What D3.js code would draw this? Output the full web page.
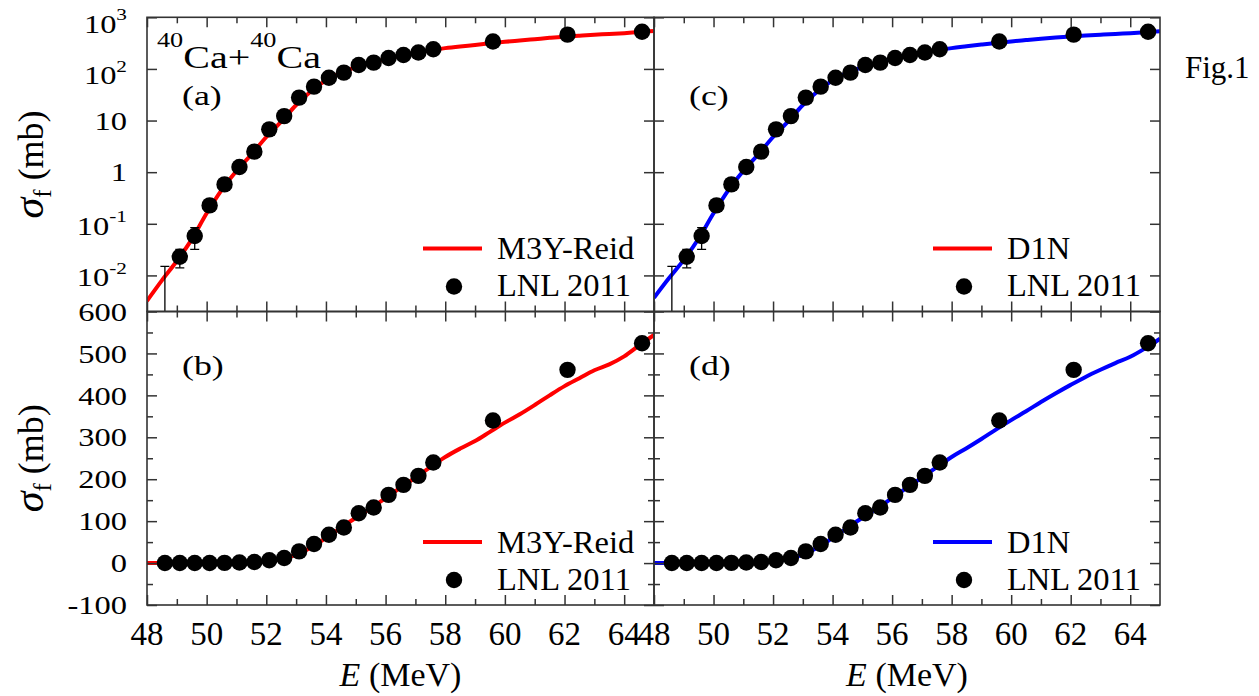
<!DOCTYPE html>
<html>
<head>
<meta charset="utf-8">
<script src="https://cdn.jsdelivr.net/npm/d3@7"></script>
<style>
  body { margin: 0; background: #fff; }
  svg, svg text { font-family: "Liberation Serif", "DejaVu Serif", serif; }
</style>
</head>
<body>
<script>
// measured fission cross sections (LNL 2011)
const expE = [48.6, 49.1, 49.6, 50.1, 50.6, 51.1, 51.6, 52.1, 52.6, 53.1, 53.6, 54.1, 54.6, 55.1, 55.6, 56.1, 56.6, 57.1, 57.6, 59.6, 62.1, 64.6];
const expSigma = [0.001, 0.023, 0.058, 0.227, 0.58, 1.26, 2.5, 6.75, 12.2, 27.8, 45.4, 67.5, 84.7, 119, 132.4, 162.6, 186.5, 208, 239.7, 340, 460.8, 524.4];
const expErr = [0.014, 0.009, 0.026, 0.03, 0.06, 0.12, 0.25, 0.6, 1.1, 2.2, 3.5, 4.5, 5, 6, 6, 7, 7, 7, 8, 8, 8, 8];

// model curves
const thE = [48, 48.5, 49, 49.5, 50, 50.5, 51, 51.5, 52, 52.5, 53, 53.5, 54, 54.5, 55, 55.5, 56, 56.5, 57, 57.5, 58, 58.5, 59, 59.5, 60, 60.5, 61, 61.5, 62, 62.5, 63, 63.5, 64, 64.5, 65];
const m3yReid = [0.0032, 0.008, 0.019, 0.05, 0.16, 0.45, 1.05, 2.2, 4.8, 9.5, 20, 37, 60, 84, 108, 131, 155, 180, 204, 229, 253, 273, 291, 313, 335, 355, 377, 400, 422, 441, 460, 474, 493, 519, 544];
const d1n = [0.0037, 0.0088, 0.02, 0.052, 0.16, 0.45, 1.05, 2.2, 4.8, 9.5, 20, 37, 60, 84, 108, 131, 155, 180, 204, 229, 253, 274, 296, 319, 341, 362, 384, 405, 425, 444, 461, 477, 492, 512, 535];

// ticks
const xMajor = [48, 50, 52, 54, 56, 58, 60, 62, 64];
const xMinor = [49, 51, 53, 55, 57, 59, 61, 63];
const logTicks = [1000, 100, 10, 1, 0.1, 0.01];
const linMajor = [-100, 0, 100, 200, 300, 400, 500, 600];
const linMinor = [-50, 50, 150, 250, 350, 450, 550];

const W = 1259, H = 696;
const colX = [[147, 654], [654, 1160]];
const rowY = [[17.3, 311.5], [311.5, 605]];
const ink = "#333";
const serif = "Liberation Serif, DejaVu Serif, serif";

const svg = d3.select("body").append("svg")
  .attr("width", W).attr("height", H)
  .attr("font-family", serif);
const defs = svg.append("defs");

const panels = [
  {name: "(a)", col: 0, row: 0, curve: m3yReid, color: "#ff0000", legName: "M3Y-Reid", legColor: "#ff0000"},
  {name: "(b)", col: 0, row: 1, curve: m3yReid, color: "#ff0000", legName: "M3Y-Reid", legColor: "#ff0000"},
  {name: "(c)", col: 1, row: 0, curve: d1n, color: "#0000ff", legName: "D1N", legColor: "#ff0000"},
  {name: "(d)", col: 1, row: 1, curve: d1n, color: "#0000ff", legName: "D1N", legColor: "#0000ff"}
];

function tickAxis(g, axisFn, scale, values, size, tr) {
  g.append("g")
    .attr("transform", tr)
    .attr("color", ink)
    .call(axisFn(scale).tickValues(values).tickSize(size).tickFormat(""))
    .call(s => s.select(".domain").remove())
    .call(s => s.selectAll("line").attr("stroke-width", 1.5));
}

panels.forEach((p, i) => {
  const [x0, x1] = colX[p.col];
  const [y0, y1] = rowY[p.row];
  const isLog = p.row === 0;
  const x = d3.scaleLinear().domain([48, 65]).range([x0, x1]);
  const y = isLog
    ? d3.scaleLog().domain([0.002, 1000]).range([y1, y0])
    : d3.scaleLinear().domain([-100, 600]).range([y1, y0]);

  defs.append("clipPath").attr("id", "clip" + i)
    .append("rect").attr("x", x0).attr("y", y0).attr("width", x1 - x0).attr("height", y1 - y0);

  const g = svg.append("g").attr("font-family", serif);
  const plot = g.append("g").attr("clip-path", `url(#clip${i})`);

  // model line
  const line = d3.line()
    .x((d, k) => x(thE[k]))
    .y(d => y(d))
    .curve(d3.curveMonotoneX);
  plot.append("path").datum(p.curve)
    .attr("d", line)
    .attr("fill", "none")
    .attr("stroke", p.color)
    .attr("stroke-width", 4);

  // error bars
  const eb = plot.append("g").attr("stroke", "#000").attr("stroke-width", 1.3);
  expE.forEach((e, k) => {
    const lo = Math.max(expSigma[k] - expErr[k], isLog ? 1e-5 : -1000);
    const hi = expSigma[k] + expErr[k];
    const cx = x(e);
    eb.append("line").attr("x1", cx).attr("x2", cx).attr("y1", y(lo)).attr("y2", y(hi));
    eb.append("line").attr("x1", cx - 4.5).attr("x2", cx + 4.5).attr("y1", y(hi)).attr("y2", y(hi));
    eb.append("line").attr("x1", cx - 4.5).attr("x2", cx + 4.5).attr("y1", y(lo)).attr("y2", y(lo));
  });

  // data points
  plot.append("g").selectAll("circle")
    .data(expE)
    .join("circle")
    .attr("cx", d => x(d))
    .attr("cy", (d, k) => y(expSigma[k]))
    .attr("r", 8.2)
    .attr("fill", "#000");

  // ticks, all inward
  tickAxis(g, d3.axisBottom, x, xMajor, -10, `translate(0,${y1})`);
  tickAxis(g, d3.axisBottom, x, xMinor, -6, `translate(0,${y1})`);
  tickAxis(g, d3.axisTop, x, xMajor, -10, `translate(0,${y0})`);
  tickAxis(g, d3.axisTop, x, xMinor, -6, `translate(0,${y0})`);
  if (isLog) {
    tickAxis(g, d3.axisLeft, y, logTicks, -10, `translate(${x0},0)`);
    tickAxis(g, d3.axisRight, y, logTicks, -10, `translate(${x1},0)`);
  } else {
    tickAxis(g, d3.axisLeft, y, linMajor, -10, `translate(${x0},0)`);
    tickAxis(g, d3.axisLeft, y, linMinor, -6, `translate(${x0},0)`);
    tickAxis(g, d3.axisRight, y, linMajor, -10, `translate(${x1},0)`);
    tickAxis(g, d3.axisRight, y, linMinor, -6, `translate(${x1},0)`);
  }

  g.append("rect")
    .attr("x", x0).attr("y", y0).attr("width", x1 - x0).attr("height", y1 - y0)
    .attr("fill", "none").attr("stroke", ink).attr("stroke-width", 1.6);

  // panel label
  g.append("text")
    .attr("transform", `translate(${x0 + 35},${y0 + (isLog ? 88 : 63.5)}) scale(1.28,1)`)
    .attr("font-size", 28)
    .text(p.name);

  // legend
  const lx = x1 + (p.col === 0 ? -231 : -227);
  const leg = g.append("g").attr("font-size", 32.5);
  leg.append("line")
    .attr("x1", lx).attr("x2", lx + 59)
    .attr("y1", y1 - 63).attr("y2", y1 - 63)
    .attr("stroke", p.legColor).attr("stroke-width", 4);
  leg.append("text").attr("x", lx + 74).attr("y", y1 - 52.5).text(p.legName);
  leg.append("circle").attr("cx", lx + 31).attr("cy", y1 - 25).attr("r", 8.2).attr("fill", "#000");
  leg.append("text").attr("x", lx + 74).attr("y", y1 - 15.5).text("LNL 2011");

  // tick labels: x on bottom row, y on left column
  if (!isLog) {
    g.append("g").attr("font-size", 33).attr("text-anchor", "middle")
      .selectAll("text").data(xMajor).join("text")
      .attr("x", d => x(d)).attr("y", 645)
      .text(d => d);
    g.append("text")
      .attr("x", (x0 + x1) / 2).attr("y", 686)
      .attr("text-anchor", "middle").attr("font-size", 34)
      .call(t => t.append("tspan").attr("font-style", "italic").text("E"))
      .call(t => t.append("tspan").text(" (MeV)"));
  }
  if (p.col === 0) {
    const yl = g.append("g").attr("font-size", 26).attr("text-anchor", "end");
    if (isLog) {
      logTicks.forEach(v => {
        const ex = Math.round(Math.log10(v));
        const t = yl.append("text");
        if (ex >= 2 || ex <= -1) {
          t.attr("transform", `translate(127,${y(v) + (ex > 0 ? 15.5 : 11)}) scale(1.25,1)`);
          t.append("tspan").text("10");
          t.append("tspan").attr("font-size", 17).attr("dy", -12.5).text(ex);
        } else {
          t.attr("transform", `translate(127,${y(v) + 9.2}) scale(1.25,1)`).text(v);
        }
      });
    } else {
      linMajor.forEach(v => {
        yl.append("text")
          .attr("transform", `translate(127,${y(v) + 9.2}) scale(1.25,1)`)
          .text(v);
      });
    }
    g.append("text")
      .attr("transform", `translate(43,${(y0 + y1) / 2}) rotate(-90)`)
      .attr("text-anchor", "middle").attr("font-size", 36)
      .call(t => t.append("tspan").attr("font-style", "italic").attr("font-size", 42).text("σ"))
      .call(t => t.append("tspan").attr("font-size", 25).attr("dy", 8).text("f"))
      .call(t => t.append("tspan").attr("dy", -8).text(" (mb)"));
  }
});

// reaction label in panel (a)
svg.append("text")
  .attr("transform", "translate(157,68) scale(1.25,1)")
  .attr("font-size", 32)
  .call(t => t.append("tspan").attr("font-size", 21).attr("dy", -21).text("40"))
  .call(t => t.append("tspan").attr("dy", 21).text("Ca+"))
  .call(t => t.append("tspan").attr("font-size", 21).attr("dy", -21).text("40"))
  .call(t => t.append("tspan").attr("dy", 21).text("Ca"));

svg.append("text")
  .attr("x", 1185).attr("y", 78)
  .attr("font-size", 31)
  .text("Fig.1");
</script>
</body>
</html>
